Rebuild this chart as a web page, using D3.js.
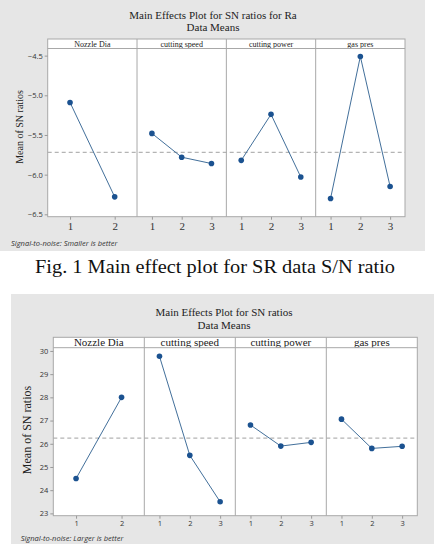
<!DOCTYPE html>
<html>
<head>
<meta charset="utf-8">
<script src="https://cdn.jsdelivr.net/npm/d3@7"></script>
<style>
  body { margin: 0; background: #fff; }
  svg { display: block; }
</style>
</head>
<body>
<svg id="page" width="434" height="550"></svg>
<script>
// factors shared by both plots
const factors = ["Nozzle Dia", "cutting speed", "cutting power", "gas pres"];
const levels = [["1", "2"], ["1", "2", "3"], ["1", "2", "3"], ["1", "2", "3"]];

// Fig 1: S/N ratios for Ra (smaller is better)
const raNozzle = [-5.09, -6.28];
const raSpeed = [-5.48, -5.78, -5.86];
const raPower = [-5.82, -5.24, -6.03];
const raGas = [-6.30, -4.51, -6.15];
const raMean = -5.72;
const raTicks = [-4.5, -5.0, -5.5, -6.0, -6.5];

// Fig 2: S/N ratios (larger is better)
const snNozzle = [24.5, 28.0];
const snSpeed = [29.77, 25.5, 23.5];
const snPower = [26.81, 25.9, 26.06];
const snGas = [27.06, 25.8, 25.89];
const snMean = 26.24;
const snTicks = [23, 24, 25, 26, 27, 28, 29, 30];

const svg = d3.select('#page');
const serif = '"Liberation Serif", "Times New Roman", serif';
const sans = '"Open Sans", "Noto Sans", sans-serif';

function mainEffects(opt) {
  const g = svg.append('g');

  g.append('rect')
    .attr('x', opt.bg[0]).attr('y', opt.bg[1])
    .attr('width', opt.bg[2]).attr('height', opt.bg[3])
    .attr('fill', '#e6e6e6');

  opt.title.forEach(function(t, i) {
    g.append('text')
      .attr('x', opt.titleX).attr('y', opt.titleY + i * opt.titleGap)
      .attr('text-anchor', 'middle')
      .style('font-family', serif).style('font-size', opt.titleSize + 'px')
      .attr('fill', '#222')
      .text(t);
  });

  const y = d3.scaleLinear().domain(opt.yDomain).range([opt.bottom, opt.stripBottom]);
  const panel = d3.scaleBand().domain(factors).range([opt.left, opt.right]);

  // white plot area + strips
  g.append('rect')
    .attr('x', opt.left).attr('y', opt.stripTop)
    .attr('width', opt.right - opt.left).attr('height', opt.bottom - opt.stripTop)
    .attr('fill', '#fff');

  // reference mean line
  g.append('line')
    .attr('x1', opt.left).attr('x2', opt.right)
    .attr('y1', y(opt.mean)).attr('y2', y(opt.mean))
    .attr('stroke', '#b4b4b4').attr('stroke-width', 1.2)
    .attr('stroke-dasharray', '4,3');

  factors.forEach(function(f, i) {
    const x0 = panel(f);
    const x = d3.scalePoint().domain(levels[i]).range([x0, x0 + panel.bandwidth()]).padding(0.5);
    const vals = opt.series[i];
    const pts = vals.map(function(v, j) { return [x(levels[i][j]), y(v)]; });

    g.append('text')
      .attr('x', x0 + panel.bandwidth() / 2).attr('y', opt.stripTop + opt.stripText)
      .attr('text-anchor', 'middle')
      .style('font-family', serif).style('font-size', opt.stripSize + 'px')
      .attr('fill', '#222')
      .text(f);

    if (i > 0) {
      g.append('line')
        .attr('x1', x0).attr('x2', x0)
        .attr('y1', opt.stripTop).attr('y2', opt.bottom)
        .attr('stroke', '#a8a8a8').attr('stroke-width', 1);
    }

    g.append('path')
      .attr('d', d3.line()(pts))
      .attr('fill', 'none')
      .attr('stroke', '#2c5f8f').attr('stroke-width', 0.9);

    g.selectAll(null)
      .data(pts)
      .enter().append('circle')
      .attr('cx', function(d) { return d[0]; })
      .attr('cy', function(d) { return d[1]; })
      .attr('r', opt.dot)
      .attr('fill', '#1b5290');

    const xAxis = d3.axisBottom(x).tickSize(3).tickPadding(opt.xPad);
    const ax = g.append('g')
      .attr('transform', `translate(0,${opt.bottom})`)
      .call(xAxis);
    ax.select('.domain').remove();
    ax.selectAll('line').attr('stroke', '#999');
    ax.selectAll('text')
      .style('font-family', opt.xFont).style('font-size', opt.xSize + 'px')
      .attr('fill', '#333');
  });

  // frame and strip border
  g.append('rect')
    .attr('x', opt.left).attr('y', opt.stripTop)
    .attr('width', opt.right - opt.left).attr('height', opt.bottom - opt.stripTop)
    .attr('fill', 'none').attr('stroke', '#a8a8a8');
  g.append('line')
    .attr('x1', opt.left).attr('x2', opt.right)
    .attr('y1', opt.stripBottom).attr('y2', opt.stripBottom)
    .attr('stroke', '#a8a8a8');

  const yAxis = d3.axisLeft(y).tickValues(opt.ticks).tickSize(3).tickPadding(2)
    .tickFormat(opt.tickFormat);
  const ay = g.append('g')
    .attr('transform', `translate(${opt.left},0)`)
    .call(yAxis);
  ay.select('.domain').remove();
  ay.selectAll('line').attr('stroke', '#999');
  ay.selectAll('text')
    .style('font-family', sans).style('font-size', opt.ySize + 'px')
    .attr('fill', '#333');

  g.append('text')
    .attr('transform', `translate(${opt.yLabel[0]},${opt.yLabel[1]}) rotate(-90)`)
    .attr('text-anchor', 'middle')
    .style('font-family', serif).style('font-size', opt.yLabelSize + 'px')
    .attr('fill', '#222')
    .text('Mean of SN ratios');

  g.append('text')
    .attr('x', opt.foot[0]).attr('y', opt.foot[1])
    .style('font-family', sans).style('font-size', '7.5px')
    .style('font-style', 'italic')
    .attr('fill', '#333')
    .text(opt.footText);
}

mainEffects({
  bg: [0, 0, 425, 251],
  title: ['Main Effects Plot for SN ratios for Ra', 'Data Means'],
  titleX: 213, titleY: 19, titleGap: 12, titleSize: 11,
  left: 47.7, right: 405, stripTop: 39, stripBottom: 48.5, bottom: 216.7,
  stripText: 7.5, stripSize: 8,
  yDomain: [-6.53, -4.41], ticks: raTicks, tickFormat: d3.format('.1f'),
  series: [raNozzle, raSpeed, raPower, raGas], mean: raMean,
  xFont: serif, xSize: 11, xPad: 3, ySize: 7.5, dot: 2.8,
  yLabel: [23, 127], yLabelSize: 10,
  foot: [11, 246], footText: 'Signal-to-noise: Smaller is better'
});

svg.append('text')
  .attr('x', 35).attr('y', 273)
  .attr('textLength', 360).attr('lengthAdjust', 'spacingAndGlyphs')
  .style('font-family', serif).style('font-size', '18px')
  .attr('fill', '#111')
  .text('Fig. 1  Main effect plot for SR data S/N ratio');

mainEffects({
  bg: [11, 294, 423, 250],
  title: ['Main Effects Plot for SN ratios', 'Data Means'],
  titleX: 224, titleY: 316, titleGap: 12.5, titleSize: 11,
  left: 53.3, right: 417.3, stripTop: 337.3, stripBottom: 347.7, bottom: 515.7,
  stripText: 8.8, stripSize: 11,
  yDomain: [22.9, 30.14], ticks: snTicks, tickFormat: d3.format('d'),
  series: [snNozzle, snSpeed, snPower, snGas], mean: snMean,
  xFont: sans, xSize: 7.5, xPad: 2, ySize: 7.5, dot: 2.8,
  yLabel: [31, 430], yLabelSize: 12,
  foot: [20.7, 541], footText: 'Signal-to-noise: Larger is better'
});
</script>
</body>
</html>
